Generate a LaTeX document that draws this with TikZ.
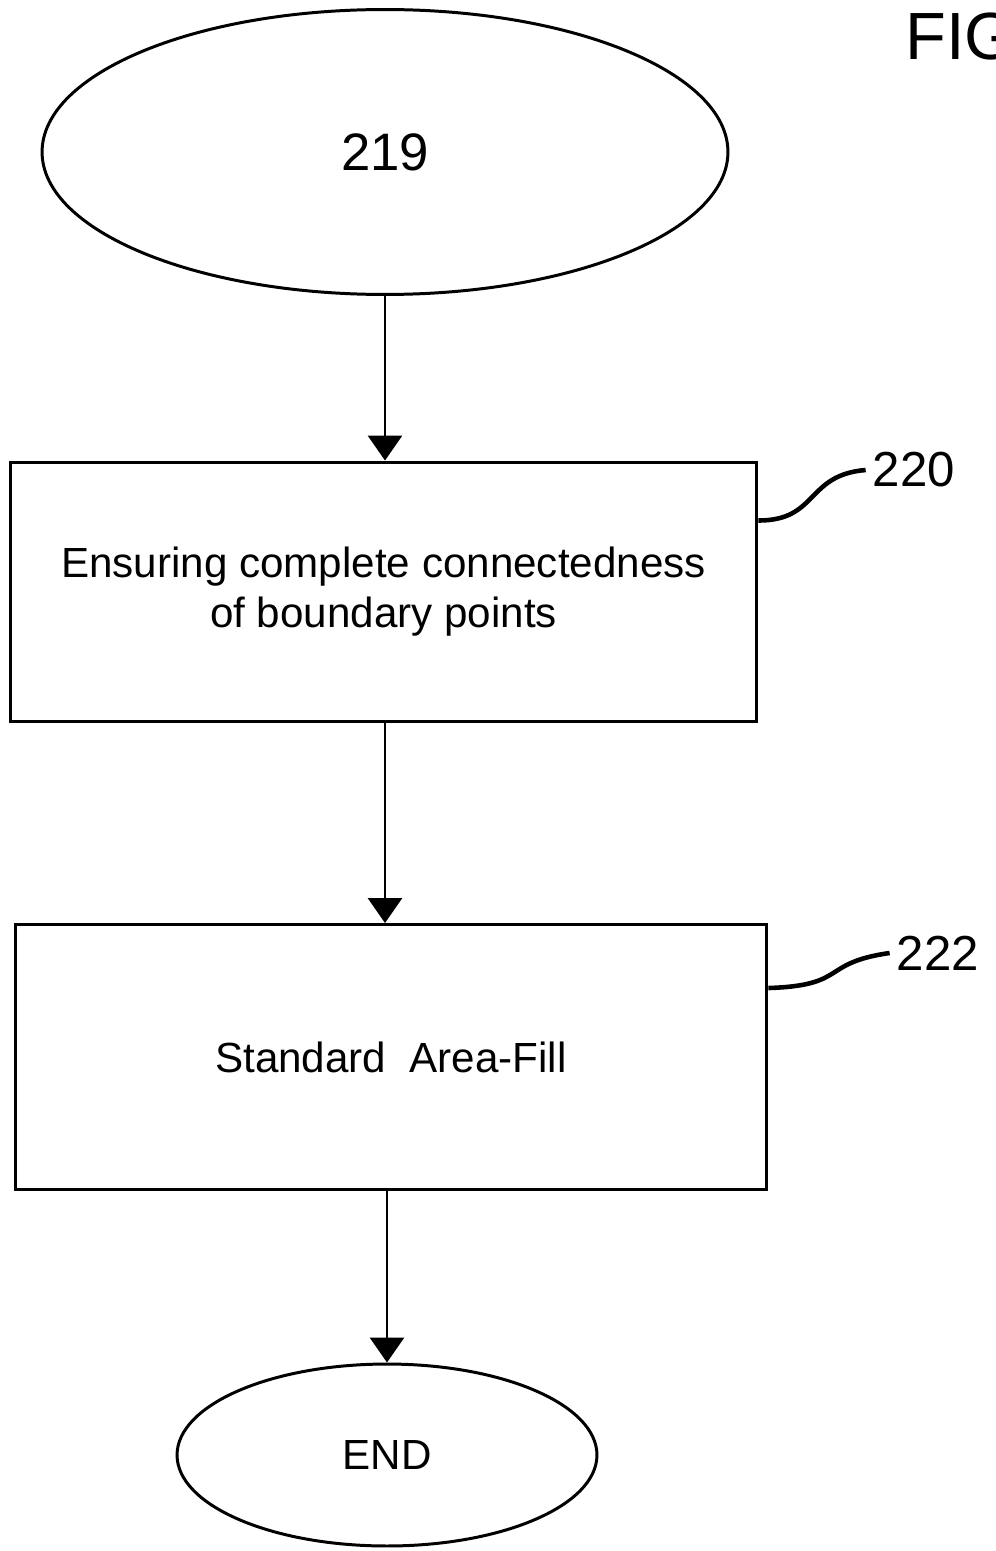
\documentclass[tikz,border=0pt]{standalone}
\usepackage{fontspec}
\setmainfont{Liberation Sans}
\usetikzlibrary{positioning,
        shapes.geometric,
        arrows.meta}

\begin{document}
\begin{tikzpicture}[x=0.02cm,y=-0.02cm,line width=1.7pt,
        flow/.style={-{Triangle[width=0.68cm,length=0.5cm]}},
        stepbox/.style={rectangle,draw,line width=1.7pt,align=center,font=\fontsize{24}{28.5}\selectfont},
        endcap/.style={ellipse,draw,line width=1.7pt,inner sep=0pt},
        leader/.style={line width=2.6pt}]
            \useasboundingbox (0,0) rectangle (996,1551);
            \node [anchor=west,font=\fontsize{38}{40}\selectfont] (Fig) at (898,37) {FIG};
            \node [endcap,minimum width=13.72cm,minimum height=5.7cm,font=\fontsize{30}{32}\selectfont] (Start) at (385,152) {219};
            \node [stepbox,minimum width=14.94cm,minimum height=5.2cm] (Connect) at (383.5,592) {Ensuring complete connectedness\\of boundary points};
            \node [stepbox,minimum width=15.04cm,minimum height=5.3cm] (Fill) at (391,1057) {Standard\ \ Area-Fill};
            \node [endcap,minimum width=8.4cm,minimum height=3.64cm,font=\fontsize{24}{26}\selectfont] (End) at (387,1455) {END};
            \node [font=\fontsize{28}{30}\selectfont] (L220) at (914,470) {220};
            \node [font=\fontsize{28}{30}\selectfont] (L222) at (938,953) {222};

            \draw [flow] (Start) -- (Start |- Connect.north);
            \draw [flow] (Connect.south -| Start) -- (Start |- Fill.north);
            \draw [flow] (Fill.south -| End) -- (End);
            \draw [leader] ([yshift=-1.2cm]Connect.north east) .. controls +(1.2cm,0) and +(-1.2cm,-0.1cm) .. (L220.west);
            \draw [leader] ([yshift=-1.3cm]Fill.north east) .. controls +(1.6cm,0.05cm) and +(-1.4cm,-0.2cm) .. (L222.west);
        \end{tikzpicture}
\end{document}
